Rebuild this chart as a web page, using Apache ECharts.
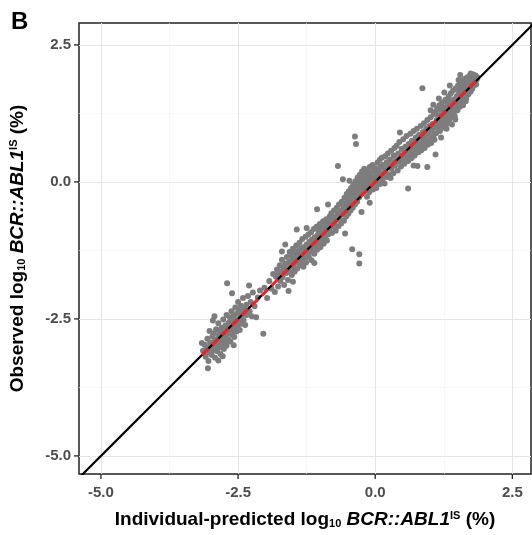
<!DOCTYPE html>
<html><head><meta charset="utf-8">
<script src="https://cdn.jsdelivr.net/npm/echarts@6/dist/echarts.min.js"></script>
<style>html,body{margin:0;padding:0;background:#fff}#c{width:532px;height:535px}</style>
</head><body><div id="c"></div>
<script>
const majorTicks = [-5.0, -2.5, 0.0, 2.5];
const minorTicks = [-3.75, -1.25, 1.25];
const xRange = [-5.40, 2.84];
const yRange = [-5.33, 2.90];
const identityLine = [[-6, -6], [3.5, 3.5]];
const fitLine = [[-3.15, -3.16], [1.86, 1.87]];

const clusterLow = [[-3.14,-3.08],[-3.11,-2.97],[-3.09,-3.19],[-3.07,-3.02],[-3.06,-2.86],[-3.04,-3.27],[-3.03,-3.11],[-3.01,-2.93],[-3.00,-3.04],[-2.98,-3.16],[-2.97,-2.82],[-2.97,-2.99],[-2.95,-3.07],[-2.94,-2.76],[-2.93,-2.91],[-2.92,-3.21],[-2.91,-3.01],[-2.90,-2.69],[-2.89,-2.87],[-2.88,-3.09],[-2.87,-2.95],[-2.86,-2.58],[-2.85,-2.81],[-2.85,-3.02],[-2.84,-2.92],[-2.83,-2.74],[-2.82,-3.14],[-2.81,-2.88],[-2.80,-2.66],[-2.79,-2.97],[-2.78,-2.79],[-2.77,-2.51],[-2.77,-2.84],[-2.76,-3.05],[-2.75,-2.71],[-2.74,-2.93],[-2.73,-2.62],[-2.72,-2.80],[-2.71,-2.43],[-2.71,-2.99],[-2.70,-1.85],[-2.69,-2.68],[-2.68,-2.87],[-2.67,-2.57],[-2.66,-2.75],[-2.65,-2.47],[-2.64,-2.91],[-2.63,-2.64],[-2.62,-2.36],[-2.61,-2.79],[-2.60,-2.55],[-2.59,-2.69],[-2.58,-2.44],[-2.57,-2.83],[-2.56,-2.61],[-2.55,-2.29],[-2.54,-2.52],[-2.53,-2.73],[-2.52,-2.40],[-2.51,-2.64],[-2.50,-2.19],[-2.49,-2.55],[-2.48,-2.35],[-2.47,-2.70],[-2.46,-2.46],[-2.45,-2.26],[-2.44,-2.59],[-2.42,-2.41],[-2.41,-2.12],[-2.40,-2.52],[-2.38,-2.33],[-2.37,-2.61],[-2.35,-2.24],[-2.34,-2.43],[-2.32,-2.08],[-2.30,-1.89],[-2.29,-2.36],[-2.27,-2.19],[-2.25,-2.45],[-2.23,-2.02],[-2.20,-2.27],[-2.17,-2.47],[-2.14,-2.11],[-2.10,-1.98],[-2.04,-2.77],[-3.05,-3.40],[-3.16,-2.94],[-2.96,-2.53],[-2.86,-3.26],[-2.61,-2.03],[-2.93,-2.45],[-2.58,-2.98],[-3.02,-2.72],[-2.78,-3.18],[-2.02,-1.93],[-1.97,-2.12],[-1.93,-1.81],[-1.89,-1.95],[-1.86,-1.68],[-1.83,-2.01]];

const clusterMid = [[-1.81,-1.73],[-1.79,-1.60],[-1.77,-1.91],[-1.76,-1.67],[-1.74,-1.52],[-1.73,-1.81],[-1.71,-1.63],[-1.70,-1.42],[-1.69,-1.74],[-1.67,-1.56],[-1.66,-1.88],[-1.64,-1.14],[-1.64,-1.49],[-1.62,-1.66],[-1.61,-1.37],[-1.60,-1.58],[-1.59,-1.79],[-1.57,-1.46],[-1.56,-1.28],[-1.55,-1.61],[-1.54,-1.51],[-1.53,-1.34],[-1.52,-1.70],[-1.51,-1.43],[-1.50,-1.22],[-1.49,-1.55],[-1.48,-1.38],[-1.47,-1.64],[-1.46,-1.29],[-1.45,-1.47],[-1.44,-1.16],[-1.43,-0.87],[-1.43,-1.40],[-1.42,-1.58],[-1.41,-1.26],[-1.40,-1.44],[-1.39,-1.33],[-1.38,-1.11],[-1.37,-1.52],[-1.36,-1.37],[-1.35,-1.21],[-1.34,-1.45],[-1.33,-1.04],[-1.32,-1.31],[-1.31,-1.55],[-1.30,-1.19],[-1.29,-1.39],[-1.28,-1.27],[-1.27,-1.00],[-1.26,-1.47],[-1.25,-1.14],[-1.24,-1.32],[-1.23,-1.23],[-1.22,-0.96],[-1.21,-1.37],[-1.20,-1.09],[-1.19,-1.28],[-1.18,-1.17],[-1.17,-0.92],[-1.16,-1.43],[-1.15,-1.05],[-1.14,-1.22],[-1.13,-1.12],[-1.12,-0.86],[-1.11,-1.31],[-1.10,-1.01],[-1.09,-1.17],[-1.08,-1.07],[-1.07,-0.82],[-1.06,-0.50],[-1.06,-1.24],[-1.05,-0.97],[-1.04,-1.12],[-1.03,-0.89],[-1.02,-1.03],[-1.01,-0.77],[-1.00,-1.19],[-0.99,-0.94],[-0.98,-1.06],[-0.97,-0.84],[-0.96,-0.99],[-0.95,-0.72],[-0.94,-1.13],[-0.93,-0.90],[-0.92,-1.01],[-0.91,-0.79],[-0.90,-0.93],[-0.89,-0.68],[-0.88,-1.07],[-0.87,-0.85],[-0.86,-0.96],[-0.85,-0.74],[-1.58,-1.99],[-1.25,-0.84],[-1.50,-1.82],[-1.11,-1.48],[-1.70,-1.27]];

const clusterZero = [[-0.84,-0.88],[-0.83,-0.63],[-0.82,-0.79],[-0.80,-0.57],[-0.79,-0.93],[-0.78,-0.71],[-0.77,-0.82],[-0.75,-0.52],[-0.74,-0.77],[-0.73,-0.64],[-0.72,-0.89],[-0.70,-0.47],[-0.69,-0.69],[-0.68,0.29],[-0.68,-0.58],[-0.67,-0.81],[-0.66,-0.41],[-0.65,-0.66],[-0.63,-0.53],[-0.62,-0.76],[-0.61,-0.36],[-0.60,-0.59],[-0.59,0.05],[-0.58,-0.46],[-0.57,-0.71],[-0.56,-0.29],[-0.55,-0.94],[-0.55,-0.55],[-0.54,-0.40],[-0.53,-0.63],[-0.52,-0.22],[-0.51,-0.49],[-0.50,-0.34],[-0.49,-0.58],[-0.48,-0.17],[-0.47,-0.43],[-0.46,-0.27],[-0.45,-0.52],[-0.44,-0.11],[-0.43,-0.37],[-0.42,-1.23],[-0.42,-0.21],[-0.41,-0.47],[-0.40,-0.05],[-0.39,-0.31],[-0.38,-0.16],[-0.37,0.83],[-0.37,-0.41],[-0.36,0.01],[-0.35,0.69],[-0.35,-0.24],[-0.34,-0.09],[-0.33,-0.36],[-0.32,0.08],[-0.31,-0.18],[-0.30,-0.03],[-0.29,-1.32],[-0.29,-1.49],[-0.29,-0.28],[-0.28,0.13],[-0.27,-0.12],[-0.26,0.03],[-0.25,-0.55],[-0.25,-0.22],[-0.24,0.19],[-0.23,-0.06],[-0.22,0.09],[-0.21,-0.17],[-0.20,0.24],[-0.19,-0.01],[-0.18,0.14],[-0.17,-0.11],[-0.16,0.05],[-0.15,-0.27],[-0.14,0.21],[-0.13,-0.04],[-0.12,0.11],[-0.11,-0.19],[-0.10,0.27],[-0.09,0.02],[-0.08,0.16],[-0.07,-0.09],[-0.06,0.07],[-0.05,0.31],[-0.04,-0.14],[-0.03,0.20],[-0.02,0.04],[-0.01,-0.06],[0.00,0.25],[0.01,0.10],[0.02,-0.11],[0.03,0.15],[0.04,0.35],[0.05,0.01],[0.06,0.21],[0.07,0.08],[0.08,0.40],[0.09,-0.04],[0.10,0.27],[0.11,0.13],[0.12,0.44],[0.13,0.04],[0.14,0.31],[0.16,0.18],[0.17,-0.03],[0.18,0.47],[0.19,0.23],[0.20,0.09],[0.21,0.36],[0.23,0.52],[0.24,0.14],[0.25,0.29],[0.27,0.41],[0.28,0.07],[0.29,0.57],[0.30,0.24],[0.31,0.35],[0.33,0.16],[0.34,0.48],[0.35,0.62],[0.36,0.30],[-0.86,-0.41],[-0.47,0.02],[-0.10,-0.38]];

const clusterOne = [[0.38,0.42],[0.39,0.66],[0.41,0.21],[0.42,0.52],[0.43,0.37],[0.44,0.73],[0.46,0.45],[0.47,0.28],[0.48,0.60],[0.50,0.40],[0.51,0.78],[0.52,0.50],[0.53,0.33],[0.55,0.64],[0.56,0.46],[0.57,0.84],[0.58,0.55],[0.60,-0.12],[0.60,0.38],[0.61,0.69],[0.62,0.51],[0.64,0.88],[0.65,0.60],[0.66,0.43],[0.67,0.75],[0.69,0.56],[0.70,0.93],[0.71,0.66],[0.72,0.48],[0.74,0.81],[0.75,0.62],[0.76,0.97],[0.77,0.29],[0.78,0.71],[0.79,0.54],[0.80,0.86],[0.82,0.67],[0.83,1.02],[0.84,0.58],[0.85,0.79],[0.86,1.71],[0.87,0.91],[0.88,0.71],[0.89,1.07],[0.90,0.62],[0.91,0.84],[0.93,0.97],[0.94,0.75],[0.95,0.27],[0.95,1.13],[0.96,0.68],[0.97,0.89],[0.99,1.02],[1.00,0.79],[1.01,1.18],[1.02,0.71],[1.03,0.94],[1.05,1.06],[1.06,0.84],[1.07,1.24],[1.08,0.77],[1.10,0.50],[0.45,0.90],[0.70,0.30]];

const clusterHigh = [[1.09,1.00],[1.10,1.28],[1.11,0.89],[1.12,1.13],[1.13,1.34],[1.14,0.98],[1.15,1.21],[1.16,1.07],[1.17,1.40],[1.18,0.93],[1.19,1.16],[1.20,1.31],[1.21,1.03],[1.22,1.45],[1.23,1.22],[1.24,1.10],[1.25,1.36],[1.26,0.99],[1.27,1.27],[1.28,1.50],[1.29,1.16],[1.30,1.33],[1.31,1.06],[1.32,1.42],[1.33,1.24],[1.34,1.56],[1.35,1.13],[1.36,1.37],[1.37,1.28],[1.38,1.62],[1.39,1.19],[1.40,1.46],[1.41,1.33],[1.42,1.67],[1.43,1.25],[1.44,1.51],[1.45,1.39],[1.46,1.14],[1.47,1.71],[1.48,1.44],[1.49,1.57],[1.50,1.31],[1.51,1.76],[1.52,1.49],[1.53,1.63],[1.54,1.37],[1.55,1.81],[1.56,1.55],[1.57,1.68],[1.58,1.43],[1.59,1.84],[1.60,1.59],[1.61,1.73],[1.62,1.48],[1.63,1.88],[1.64,1.64],[1.65,1.77],[1.66,1.53],[1.67,1.90],[1.68,1.69],[1.69,1.81],[1.70,1.60],[1.71,1.93],[1.72,1.74],[1.73,1.85],[1.74,1.98],[1.74,1.65],[1.75,1.79],[1.76,1.92],[1.77,1.70],[1.78,1.86],[1.79,1.96],[1.80,1.76],[1.81,1.89],[1.82,1.82],[1.83,1.94],[1.84,1.78],[1.85,1.87],[1.86,1.91],[1.30,0.97],[1.45,1.20],[1.60,1.40],[1.20,0.81],[1.06,1.41],[1.16,1.52],[1.26,1.63],[1.36,1.76],[1.52,1.86],[1.01,1.31],[1.40,1.05],[1.65,1.47],[1.55,1.95],[1.70,1.84],[1.62,1.80],[1.48,1.70],[1.35,1.48]];

const points = clusterLow.concat(clusterMid, clusterZero, clusterOne, clusterHigh);

const FONT = 'Liberation Sans, Arial, sans-serif';
const titleRich = {
  b: {fontFamily: FONT, fontWeight: 'bold', fontSize: 19, color: '#000'},
  i: {fontFamily: FONT, fontWeight: 'bold', fontStyle: 'italic', fontSize: 19, color: '#000'},
  sub: {fontFamily: FONT, fontWeight: 'bold', fontSize: 11, color: '#000', verticalAlign: 'bottom', padding: [8, 0, 0, 0]},
  sup: {fontFamily: FONT, fontWeight: 'bold', fontSize: 11, color: '#000', verticalAlign: 'top', padding: [0, 0, 8, 0]}
};

const gridLines = [];
majorTicks.forEach(v => {
  gridLines.push({xAxis: v, lineStyle: {color: '#e6e6e6', width: 1.1, type: 'solid'}});
  gridLines.push({yAxis: v, lineStyle: {color: '#e6e6e6', width: 1.1, type: 'solid'}});
});
minorTicks.forEach(v => {
  gridLines.push({xAxis: v, lineStyle: {color: '#f1f1f1', width: 0.6, type: 'solid'}});
  gridLines.push({yAxis: v, lineStyle: {color: '#f1f1f1', width: 0.6, type: 'solid'}});
});

// tick marks drawn through the axis scales (axis value -> pixel via api.coord)
const tickItems = majorTicks.map(v => [v, 0]).concat(majorTicks.map(v => [v, 1]));
function renderTick(params, api) {
  const v = api.value(0), isY = api.value(1) === 1;
  const p = isY ? api.coord([xRange[0], v]) : api.coord([v, yRange[0]]);
  const shape = isY ? {x1: p[0] - 5, y1: p[1], x2: p[0], y2: p[1]} : {x1: p[0], y1: p[1], x2: p[0], y2: p[1] + 5};
  return {type: 'line', shape: shape, style: {stroke: '#222', lineWidth: 1.3}};
}

function axisCommon(range, isX) {
  return {
    type: 'value', min: range[0], max: range[1],
    axisLine: {show: false, onZero: false},
    splitLine: {show: false},
    axisTick: {show: false},
    axisLabel: {show: true, customValues: majorTicks, margin: isX ? 11 : 8, fontFamily: FONT, fontSize: 15, fontWeight: 'bold', color: '#4d4d4d',
      formatter: v => Number(v).toFixed(1)},
    nameLocation: 'middle',
    nameTextStyle: {rich: titleRich}
  };
}

const chart = echarts.init(document.getElementById('c'), null, {renderer: 'canvas'});
chart.setOption({
  animation: false,
  backgroundColor: '#fff',
  grid: {left: 79, top: 23, right: 1, bottom: 61, show: true, borderColor: '#222', borderWidth: 1.5, backgroundColor: 'transparent'},
  graphic: [{type: 'text', left: 11, top: 10, style: {text: 'B', fontFamily: FONT, fontWeight: 'bold', fontSize: 24, fill: '#000'}}],
  xAxis: Object.assign(axisCommon(xRange, true), {
    position: 'bottom',
    name: '{b|Individual-predicted log}{sub|10}{b| }{i|BCR::ABL1}{sup|IS}{b| (%)}', nameGap: 36
  }),
  yAxis: Object.assign(axisCommon(yRange, false), {
    position: 'left',
    name: '{b|Observed log}{sub|10}{b| }{i|BCR::ABL1}{sup|IS}{b| (%)}', nameGap: 52, nameRotate: 90
  }),
  series: [
    {type: 'line', data: [], z: 0, silent: true,
      markLine: {z: 0, silent: true, symbol: 'none', label: {show: false}, animation: false, data: gridLines}},
    {type: 'scatter', data: points, z: 2, symbolSize: 6, itemStyle: {color: '#7d7d7d', opacity: 1}, silent: true},
    {type: 'line', data: identityLine, z: 3, symbol: 'none', clip: true, lineStyle: {color: '#000', width: 2.2}, silent: true},
    {type: 'line', data: fitLine, z: 4, symbol: 'none', clip: true, lineStyle: {color: '#e8262b', width: 3, type: [9, 5]}, silent: true},
    {type: 'custom', data: tickItems, renderItem: renderTick, clip: false, z: 5, silent: true}
  ]
});
</script></body></html>
